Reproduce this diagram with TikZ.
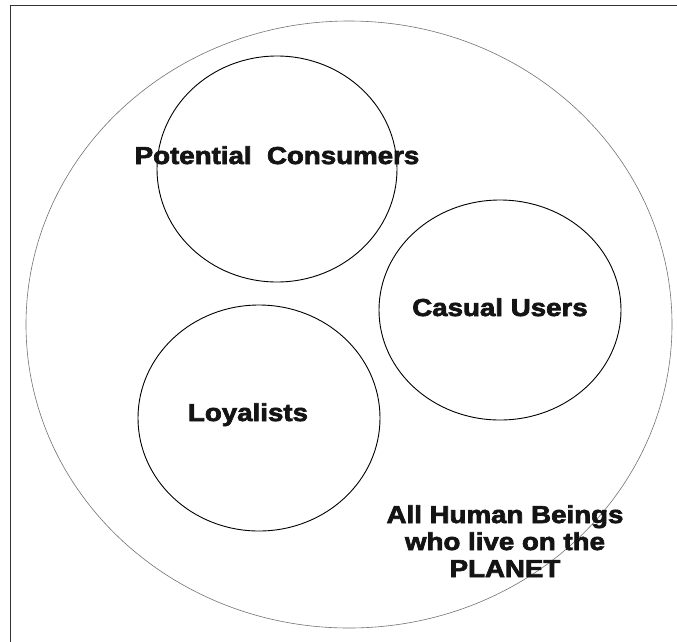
\documentclass[tikz,border=0pt]{standalone}
\usepackage{fontspec}
\setmainfont{Liberation Sans}
\newfontfamily\heavyfont{Liberation Sans Bold}[FakeBold=2.6]
\usetikzlibrary{shapes.geometric}
\begin{document}
\begin{tikzpicture}[x=1pt,y=-1pt,
  frameline/.style={line width=1.6pt,draw=black!80},
  world/.style={ellipse,draw=black!55,line width=0.6pt,inner sep=0pt,outer sep=0pt},
  group/.style={ellipse,draw=black,line width=0.9pt,inner sep=0pt,outer sep=0pt},
  label/.style={font=\heavyfont\fontsize{24.5}{27}\selectfont,xscale=1.13,inner sep=0pt,anchor=base,align=center,text=black!92}]
\useasboundingbox (0,0) rectangle (677,641);
\fill[white] (0,0) rectangle (677,641);
% open frame along the top and left edges
\draw[frameline] (10.5,645) -- (10.5,5.5) -- (680,5.5);
% the whole population and its three groups
\node[world,minimum width=646,minimum height=607] (all) at (349,324.5) {};
\node[group,minimum width=240,minimum height=226] (pot) at (277,169) {};
\node[group,minimum width=242,minimum height=220] (cas) at (500,310) {};
\node[group,minimum width=242,minimum height=226] (loy) at (259,418) {};
% group names
\node[label] (tpot) at (277,164) {Potential\ \ Consumers};
\node[label] (tcas) at (500,316) {Casual Users};
\node[label] (tloy) at (248,421) {Loyalists};
% multi-line node: its base is the baseline of the last line
\node[label] (tall) at (505,577) {All Human Beings\\who live on the\\PLANET};
\end{tikzpicture}
\end{document}
